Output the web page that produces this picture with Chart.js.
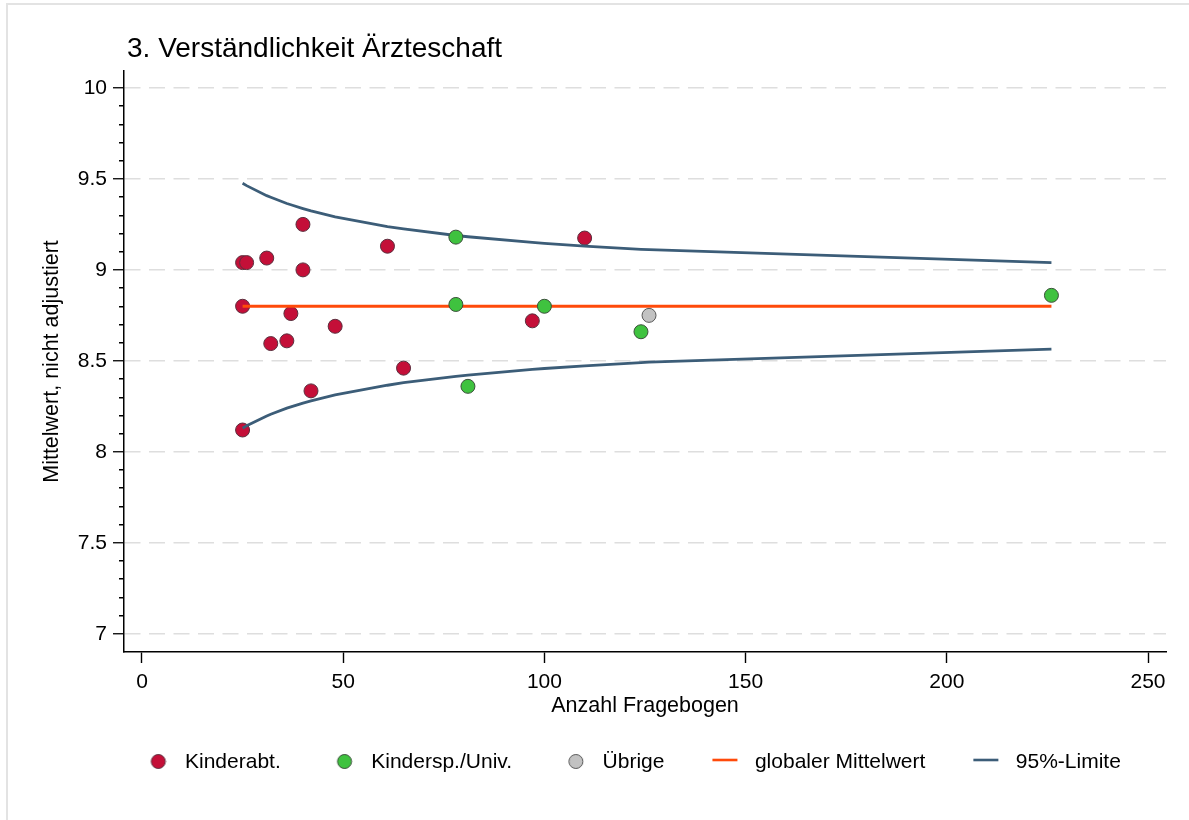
<!DOCTYPE html>
<html lang="de">
<head>
<meta charset="utf-8">
<title>3. Verständlichkeit Ärzteschaft</title>
<script src="https://cdn.jsdelivr.net/npm/chart.js@4.4.1/dist/chart.umd.min.js"></script>
<style>
  html, body { margin: 0; padding: 0; background: #ffffff; overflow: hidden; }
  #wrap { position: relative; width: 1189px; height: 820px; overflow: hidden; }
  #frame { position: absolute; left: 6px; top: 3px; width: 1400px; height: 1000px;
           border: 2px solid #e3e3e3; box-sizing: border-box; }
  #chart { position: absolute; left: 0; top: 0; }
</style>
</head>
<body>
<div id="wrap">
  <div id="frame"></div>
  <canvas id="chart" width="1189" height="820"></canvas>
</div>
<script>
// Anzahl Fragebogen (n) und Mittelwert je Klinik, nach Gruppe
const kinderabtN    = [25, 26, 31, 40, 40, 61, 110, 25, 37, 32, 36, 48, 65, 42, 97, 25];
const kinderabtMean = [9.04, 9.04, 9.065, 9.25, 9.00, 9.13, 9.175, 8.80, 8.76, 8.595, 8.61, 8.69, 8.46, 8.335, 8.72, 8.12];

const kinderspN    = [78, 78, 100, 81, 124, 226];
const kinderspMean = [9.18, 8.81, 8.80, 8.36, 8.66, 8.86];

const uebrigeN    = [126];
const uebrigeMean = [8.75];

// globaler Mittelwert über den Bereich der Fallzahlen
const meanLineN = [25, 226];
const meanLine  = [8.80, 8.80];

// 95%-Kontrollgrenzen je Fallzahl
const limitN     = [25, 26, 31, 32, 36, 37, 40, 42, 48, 61, 65, 78, 81, 97, 100, 110, 124, 126, 226];
const upperLimit = [9.476, 9.463, 9.408, 9.399, 9.365, 9.358, 9.337, 9.324, 9.291, 9.238, 9.225, 9.189, 9.182, 9.151, 9.146, 9.131, 9.113, 9.111, 9.040];
const lowerLimit = [8.130, 8.143, 8.197, 8.207, 8.240, 8.247, 8.268, 8.280, 8.313, 8.366, 8.380, 8.415, 8.422, 8.453, 8.458, 8.473, 8.490, 8.493, 8.564];

// Achsen
const xTickStep = 50;
const yTickStep = 0.1;
const yLabelStep = 0.5;

const FONT = '"Liberation Sans", Arial, sans-serif';
const RED = '#C40F38', GREEN = '#3FC23F', GREY = '#C2C2C2';
const ORANGE = '#FF4A0A', SLATE = '#3C5D78';
const EDGE_RED = '#5b2f3e', EDGE_GREEN = '#3b4f3b', EDGE_GREY = '#585858';

const toPoints = (xs, ys) => xs.map((x, i) => ({ x, y: ys[i] }));
const isMajor = v => Math.abs(v / yLabelStep - Math.round(v / yLabelStep)) < 1e-6;
const isTenth = v => Math.abs(v / yTickStep - Math.round(v / yTickStep)) < 1e-6;

// Legend symbols (drawn at natural size, offset inside the box)
function symbol(w, h, paint) {
  const c = document.createElement('canvas');
  c.width = w; c.height = h;
  paint(c.getContext('2d'));
  return c;
}
const dotSymbol = (fill, edge) => symbol(54, 20, g => {
  g.beginPath(); g.arc(45.8, 9.5, 7, 0, Math.PI * 2);
  g.fillStyle = fill; g.fill();
  g.lineWidth = 1; g.strokeStyle = edge; g.stroke();
});
const lineSymbol = color => symbol(58, 20, g => {
  g.beginPath(); g.moveTo(32, 8); g.lineTo(57, 8);
  g.lineWidth = 2.6; g.strokeStyle = color; g.stroke();
});

const legendRank = { 5: 0, 1: 1, 0: 2, 2: 3, 3: 4 };
const legendSymbols = {
  5: dotSymbol(RED, EDGE_RED),
  1: dotSymbol(GREEN, EDGE_GREEN),
  0: dotSymbol(GREY, EDGE_GREY),
  2: lineSymbol(ORANGE),
  3: lineSymbol(SLATE)
};
const LEGEND_BOX = 70, LEGEND_PAD = 10, LEGEND_FONT = 21;
const legendFirstTextX = 185;
const titleIndent = 3;

// keeps the legend row and the title aligned with the plot
const blockPlacement = {
  id: 'blockPlacement',
  afterLayout(chart) {
    const lg = chart.legend;
    if (lg) {
      const startX = legendFirstTextX - LEGEND_BOX - LEGEND_FONT / 2;
      const shift = startX - (lg.left + LEGEND_PAD);
      lg.left += shift;
      lg.right += shift;
    }
    const tb = chart.titleBlock;
    if (tb) {
      tb.left = chart.chartArea.left + titleIndent;
    }
  }
};

const scatterStyle = (fill, edge) => ({
  type: 'scatter', showLine: false,
  backgroundColor: fill, borderColor: edge, borderWidth: 1,
  pointRadius: 7, pointHoverRadius: 7, pointBorderWidth: 1
});
const lineStyle = color => ({
  type: 'scatter', showLine: true, fill: false, tension: 0,
  borderColor: color, backgroundColor: color, borderWidth: 2.8,
  pointRadius: 0, pointHoverRadius: 0
});

new Chart(document.getElementById('chart'), {
  type: 'scatter',
  data: {
    datasets: [
      Object.assign({ label: 'Übrige', data: toPoints(uebrigeN, uebrigeMean) }, scatterStyle(GREY, EDGE_GREY)),
      Object.assign({ label: 'Kindersp./Univ.', data: toPoints(kinderspN, kinderspMean) }, scatterStyle(GREEN, EDGE_GREEN)),
      Object.assign({ label: 'globaler Mittelwert', data: toPoints(meanLineN, meanLine) }, lineStyle(ORANGE)),
      Object.assign({ label: '95%-Limite', data: toPoints(limitN, upperLimit) }, lineStyle(SLATE)),
      Object.assign({ label: '95%-Limite unten', data: toPoints(limitN, lowerLimit) }, lineStyle(SLATE)),
      Object.assign({ label: 'Kinderabt.', data: toPoints(kinderabtN, kinderabtMean) }, scatterStyle(RED, EDGE_RED))
    ]
  },
  options: {
    responsive: false,
    animation: false,
    events: [],
    devicePixelRatio: 1,
    layout: { padding: { left: 0, right: 23, top: 0, bottom: 37.5 } },
    scales: {
      x: {
        type: 'linear',
        min: -4.47, max: 254.47,
        afterFit: s => { s.height = 89.5; },
        border: { display: true, color: '#000', width: 1.5 },
        grid: { drawOnChartArea: false, drawTicks: true, tickLength: 11, tickColor: '#000', tickWidth: 1.4 },
        ticks: {
          stepSize: xTickStep, includeBounds: false, autoSkip: false, maxRotation: 0,
          padding: 6.4, color: '#000', font: { family: FONT, size: 21 },
          callback: v => String(v)
        },
        title: {
          display: true, text: 'Anzahl Fragebogen', color: '#000',
          font: { family: FONT, size: 21.5 }, padding: { top: 0, bottom: 22.75 }
        }
      },
      y: {
        type: 'linear',
        min: 6.9, max: 10.093,
        afterFit: s => { s.width = 124; },
        border: { display: true, color: '#000', width: 1.5, dash: [16, 8.5] },
        grid: {
          drawOnChartArea: true, drawTicks: true, tickLength: 11,
          color: c => (c.tick && isMajor(c.tick.value)) ? '#dedede' : 'rgba(0,0,0,0)',
          lineWidth: 1.5,
          tickWidth: 1.3,
          tickColor: c => (c.tick && c.tick.value > 6.95 && isTenth(c.tick.value)) ? '#000' : 'rgba(0,0,0,0)',
          tickBorderDash: c => (c.tick && isMajor(c.tick.value)) ? [] : [0, 6, 10, 0]
        },
        ticks: {
          stepSize: yTickStep, includeBounds: false, autoSkip: false,
          padding: 6, color: '#000', font: { family: FONT, size: 21 },
          callback: v => isMajor(v) ? String(Math.round(v / yLabelStep) * yLabelStep) : ''
        },
        title: {
          display: true, text: 'Mittelwert, nicht adjustiert', color: '#000',
          font: { family: FONT, size: 21.5 }, padding: { top: 38.95, bottom: 0 }
        }
      }
    },
    plugins: {
      tooltip: { enabled: false },
      title: {
        display: true, text: '3. Verständlichkeit Ärzteschaft',
        align: 'start', fullSize: false, color: '#000',
        font: { family: FONT, size: 28, weight: 'normal' },
        padding: { top: 32.5, bottom: 4.9 }
      },
      legend: {
        display: true, position: 'bottom', align: 'start',
        labels: {
          usePointStyle: true, pointStyleWidth: LEGEND_BOX, padding: LEGEND_PAD,
          color: '#000', font: { family: FONT, size: LEGEND_FONT },
          generateLabels(chart) {
            const base = Chart.defaults.plugins.legend.labels.generateLabels(chart);
            return base
              .filter(it => it.datasetIndex in legendRank)
              .map(it => Object.assign(it, { pointStyle: legendSymbols[it.datasetIndex] }))
              .sort((a, b) => legendRank[a.datasetIndex] - legendRank[b.datasetIndex]);
          }
        }
      }
    }
  },
  plugins: [blockPlacement]
});
</script>
</body>
</html>
